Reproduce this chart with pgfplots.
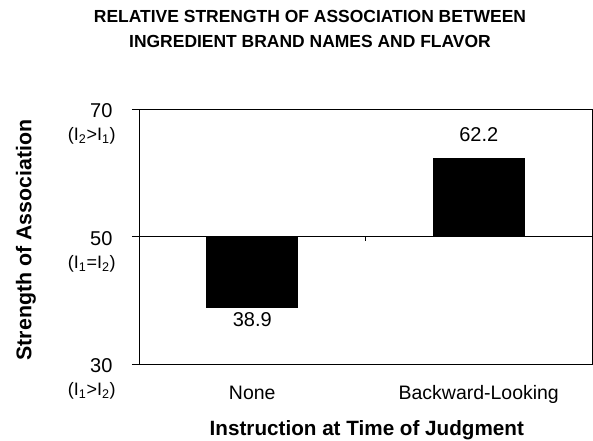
\documentclass[border=0pt]{standalone}
\usepackage{fontspec}
\setmainfont{Liberation Sans}
\usepackage{pgfplots}
\pgfplotsset{compat=1.18}
\usepackage{pgfplotstable}

% strength of association, baseline at 50
\pgfplotstableread{
x v
0 38.9
1 62.2
}\assoc

\begin{document}
\begin{tikzpicture}
\useasboundingbox (-104.25pt,-57.75pt) rectangle (340.5pt,273pt);
\begin{axis}[
    scale only axis,
    width=339.75pt, height=191.25pt,
    xmin=-0.5, xmax=1.5,
    ymin=-20, ymax=20,
    axis line style={line width=0.6pt},
    xtick={0,1},
    xticklabels={None, Backward-Looking},
    major x tick style={draw=none},
    xticklabel style={anchor=base, yshift=-21.5pt, font=\fontsize{14.6}{16}\selectfont},
    ytick={-20,0,20},
    yticklabels={30,50,70},
    ytick pos=left,
    tick align=outside,
    major tick length=5.25pt,
    tick style={line width=0.6pt, black},
    yticklabel style={anchor=east, inner sep=0pt, xshift=-14.5pt, yshift=-1.5pt,
        font=\fontsize{15}{17}\selectfont},
    /pgf/number format/assume math mode=true,
    title={RELATIVE STRENGTH OF ASSOCIATION BETWEEN\\INGREDIENT BRAND NAMES AND FLAVOR},
    title style={at={(axis description cs:0.3775,1.283)}, anchor=center, align=center,
        font=\fontsize{13.1}{18.6}\selectfont\bfseries},
    xlabel={Instruction at Time of Judgment},
    xlabel style={at={(axis description cs:0.503,-0.26)}, anchor=center,
        font=\fontsize{15.5}{17}\selectfont\bfseries},
    ylabel={Strength of Association},
    ylabel style={at={(axis description cs:-0.2494,0.486)}, anchor=center,
        font=\fontsize{16}{18}\selectfont\bfseries},
    clip=false,
]
\draw[line width=0.6pt] (axis description cs:0,0.5) -- (axis description cs:1,0.5);
\draw[line width=0.6pt] (axis cs:0.5,0) -- ([yshift=-3.75pt]axis cs:0.5,0);

\addplot[ybar, bar width=68.25pt, fill=black, draw=black,
    visualization depends on={\thisrow{v} \as \rawv},
    point meta=y,
    nodes near coords={\pgfmathprintnumber{\rawv}},
    every node near coord/.append style={black, inner sep=8.3pt, yshift=4.3pt,
        font=\fontsize{15}{17}\selectfont}]
    table[x=x, y expr=\thisrow{v}-50] {\assoc};

\begin{scope}[every node/.style={anchor=east, inner sep=0pt, font=\fontsize{13.5}{15}\selectfont}]
\node at ([xshift=-17.25pt, yshift=-20.25pt]axis description cs:0,1) {(I\textsubscript{2}>I\textsubscript{1})};
\node at ([xshift=-17.25pt, yshift=-20.25pt]axis description cs:0,0.5) {(I\textsubscript{1}=I\textsubscript{2})};
\node at ([xshift=-17.25pt, yshift=-20.25pt]axis description cs:0,0) {(I\textsubscript{1}>I\textsubscript{2})};
\end{scope}
\end{axis}
\end{tikzpicture}
\end{document}
